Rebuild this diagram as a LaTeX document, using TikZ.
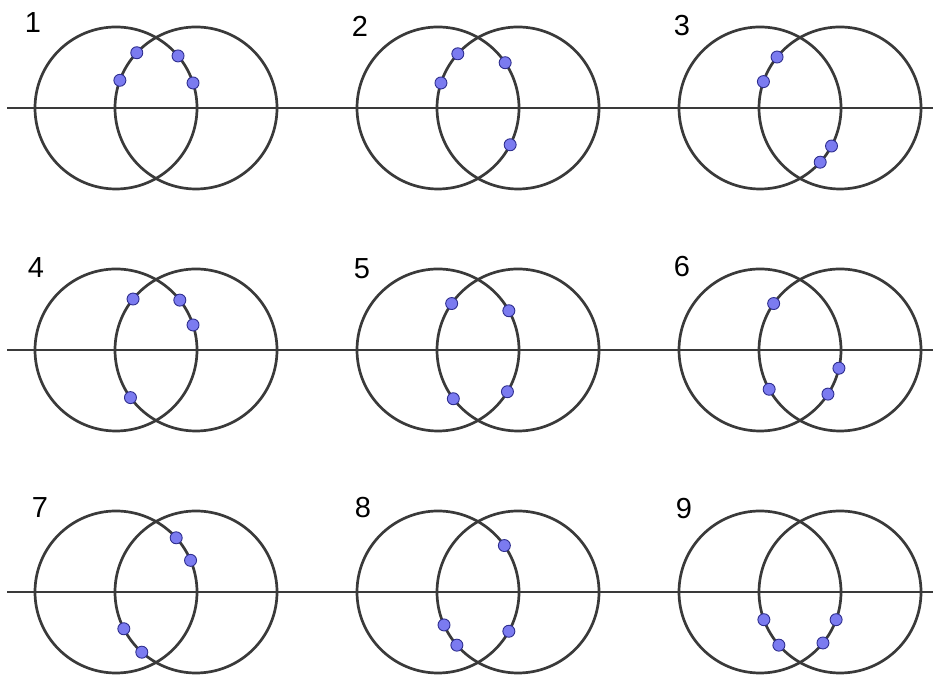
\documentclass[tikz,border=0pt]{standalone}
\usepackage{fontspec}
\setmainfont{Liberation Sans}
\usepackage{tikz}
\definecolor{ringgray}{HTML}{3A3A3A}
\definecolor{beadfill}{HTML}{7B7BF0}
\definecolor{beadline}{HTML}{2E2E8E}

\begin{document}
\begin{tikzpicture}[
    x=1pt, y=1pt,
    ring/.style={
        circle, draw=ringgray, line width=2.7pt,
        minimum size=162pt, inner sep=0, outer sep=0,
      },
    axis/.style={draw=ringgray, line width=2.2pt},
    bead/.style={
        circle, fill=beadfill, draw=beadline, line width=0.9pt,
        minimum size=12pt, inner sep=0,
      },
    tag/.style={font=\fontsize{29}{29}\selectfont, inner sep=0},
  ]
  \useasboundingbox (0,0) rectangle (933,676);

  \foreach \y in {568,326,84} {
      \draw[axis] (7,\y) -- (933,\y);
    }

  \foreach \cx/\cy/\lx/\ly/\beads [count=\k] in {
      116/568/33/653/{R/137.5,R/160,L/40.3,L/18.5},
      438/568/360/649.5/{R/138.9,R/162.6,L/34.3,L/333.5},
      760/568/682/650/{R/141.7,R/161.2,L/332.7,L/318},
      116/326/36/408/{R/141,L/38.9,L/18.1,R/216.3},
      438/326/362/407/{R/145.4,L/29.4,R/217.4,L/329.1},
      760/326/682/409/{R/145.2,L/347.3,R/209.7,L/327},
      116/84/40/168/{L/42.3,L/23.6,R/207.3,R/228.3},
      438/84/363/168/{L/35.3,R/204.2,R/221.7,L/331},
      760/84/684/167/{R/200.3,R/221.8,L/340.4,L/321.9}} {
      \node[ring] (ringL\k) at (\cx,\cy) {};
      \node[ring] (ringR\k) at (\cx+80,\cy) {};
      \node[tag] (tag\k) at (\lx,\ly) {\k};
      \foreach \s/\a in \beads {
          \node[bead] at (ring\s\k.\a) {};
        }
    }
\end{tikzpicture}
\end{document}
